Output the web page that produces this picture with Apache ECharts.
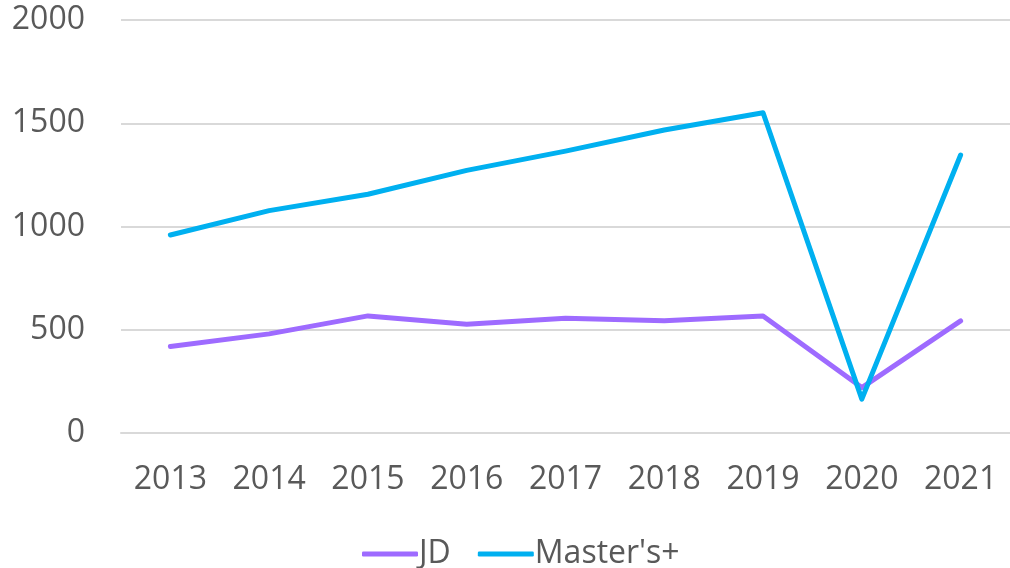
<!DOCTYPE html>
<html>
<head>
<meta charset="utf-8">
<script src="https://cdn.jsdelivr.net/npm/echarts@6/dist/echarts.min.js"></script>
<style>
  html, body { margin: 0; padding: 0; background: #fff; }
  #chart { width: 1010px; height: 568px; }
</style>
</head>
<body>
<div id="chart"></div>
<script>
var years = ['2013', '2014', '2015', '2016', '2017', '2018', '2019', '2020', '2021']
var jdValues = [419, 480, 567, 527, 556, 543, 567, 220, 543]
var mastersValues = [959, 1077, 1156, 1272, 1365, 1467, 1551, 164, 1346]
var yTicks = [0, 500, 1000, 1500, 2000]

var textColor = '#595959'
var fontFamily = '"Open Sans", "Noto Sans", sans-serif'

var chart = echarts.init(document.getElementById('chart'))
chart.setOption({
  animation: false,
  grid: {
    left: 121,
    width: 890,
    top: 20,
    bottom: 135
  },
  legend: {
    top: 533,
    left: 357,
    itemWidth: 56,
    itemHeight: 5,
    itemGap: 27,
    icon: 'roundRect',
    textStyle: {
      color: textColor,
      fontSize: 32,
      fontFamily: fontFamily,
      padding: [0, 0, 0, -4]
    },
    data: ['JD', "Master's+"]
  },
  xAxis: {
    type: 'category',
    data: years,
    boundaryGap: true,
    axisTick: { show: false },
    axisLine: { lineStyle: { color: '#d9d9d9', width: 2 } },
    axisLabel: {
      color: textColor,
      fontSize: 32,
      fontFamily: fontFamily,
      margin: 31
    }
  },
  yAxis: {
    type: 'value',
    min: yTicks[0],
    max: yTicks[yTicks.length - 1],
    interval: 500,
    axisLine: { show: false },
    axisTick: { show: false },
    splitLine: { lineStyle: { color: '#d9d9d9', width: 2 } },
    axisLabel: {
      color: textColor,
      fontSize: 32,
      fontFamily: fontFamily,
      margin: 36,
      formatter: function (v) { return String(v) }
    }
  },
  series: [
    {
      name: 'JD',
      type: 'line',
      data: jdValues,
      symbol: 'none',
      color: '#9e6bff',
      lineStyle: { width: 5, cap: 'round', join: 'round' }
    },
    {
      name: "Master's+",
      type: 'line',
      data: mastersValues,
      symbol: 'none',
      color: '#00b0f0',
      lineStyle: { width: 5, cap: 'round', join: 'round' }
    }
  ]
})
</script>
</body>
</html>
